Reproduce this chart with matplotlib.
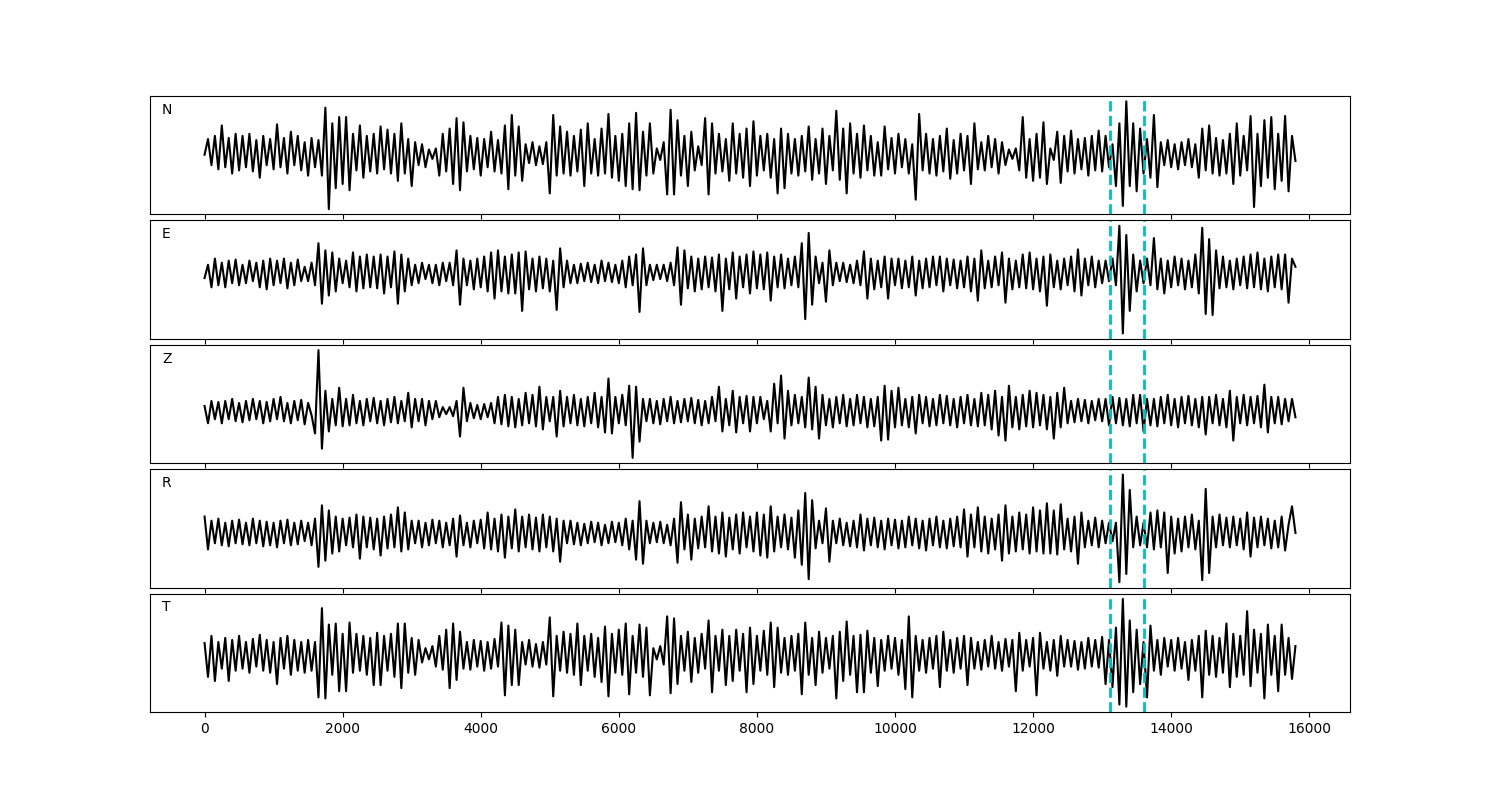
import numpy as np
import matplotlib
matplotlib.use("Agg")
import matplotlib.pyplot as plt

# sample spacing between successive read-off extrema
step = 50

labels = ["N", "E", "Z", "R", "T"]

trace_N = [
    0, 15, -10, 18, -14, 28, -12, 16, -18, 20,
    -15, 18, -12, 20, -16, 14, -22, 18, -10, 15,
    -14, 29, -12, 16, -18, 22, -10, 18, -15, 12,
    -20, 16, -12, 14, -20, 45, -52, 30, -32, 36,
    -28, 36, -34, 20, -15, 28, -22, 18, -16, 20,
    -18, 27, -14, 24, -18, 20, -25, 30, -18, 15,
    -30, 12, -10, 10, -12, 5, -4, 6, -20, 20,
    -16, 25, -28, 35, -34, 31, -16, 18, -14, 16,
    -20, 15, -12, 22, -16, 14, -18, 28, -33, 38,
    -20, 27, -25, 10, -8, 12, -10, 8, -9, 12,
    -37, 38, -20, 27, -18, 22, -20, 18, -16, 24,
    -30, 30, -18, 15, -20, 25, -18, 39, -22, 18,
    -25, 20, -30, 30, -33, 40, -34, 22, -20, 30,
    -18, 6, -5, 12, -38, 43, -38, 33, -20, 18,
    -30, 22, -15, 8, -10, 35, -38, 30, -18, 20,
    -16, 15, -25, 30, -18, 20, -22, 25, -30, 32,
    -20, 18, -15, 20, -22, 15, -37, 25, -32, 20,
    -18, 15, -20, 18, -16, 27, -24, 15, -18, 25,
    -28, 18, -15, 42, -24, 25, -37, 30, -18, 20,
    -22, 28, -15, 18, -20, 12, -20, 27, -14, 16,
    -18, 20, -12, 15, -18, 10, -43, 39, -15, 20,
    -18, 15, -20, 18, -16, 25, -23, 14, -18, 20,
    -15, 18, -28, 30, -14, 12, -15, 18, -12, 15,
    -18, 12, -10, 5, -4, 6, -15, 36, -22, 15,
    -25, 20, -22, 31, -28, 6, -5, 22, -27, 18,
    -16, 23, -18, 15, -14, 16, -20, 18, -15, 23,
    -16, 18, -12, 10, -30, 30, -49, 51, -30, 30,
    -35, 25, -18, 15, -22, 38, -31, 12, -10, 14,
    -12, 10, -14, 12, -10, 15, -12, 10, -22, 25,
    -15, 28, -18, 16, -20, 14, -18, 20, -28, 30,
    -20, 18, -15, 37, -50, 20, -30, 33, -22, 36,
    -33, 20, -25, 37, -35, 18, -6,
]

trace_E = [
    -5, 8, -14, 14, -12, 10, -14, 12, -10, 13,
    -12, 8, -10, 12, -8, 10, -14, 12, -16, 14,
    -12, 12, -10, 14, -15, 10, -12, 13, -8, 6,
    -8, 10, -12, 29, -30, 22, -22, 20, -18, 14,
    -10, 12, -14, 20, -18, 16, -15, 18, -14, 16,
    -15, 18, -20, 16, -14, 21, -30, 18, -18, 14,
    -12, 8, -10, 10, -6, 8, -10, 8, -12, 10,
    -8, 10, -12, 22, -31, 14, -12, 12, -16, 14,
    -14, 16, -18, 20, -25, 22, -18, 16, -20, 18,
    -20, 20, -37, 21, -16, 14, -18, 16, -15, 14,
    -18, 12, -36, 24, -14, 12, -10, 8, -10, 9,
    -8, 10, -9, 8, -10, 12, -8, 10, -9, 8,
    -10, 12, -14, 16, -12, 18, -38, 24, -12, 8,
    -7, 8, -6, 8, -8, 10, -12, 25, -31, 22,
    -15, 16, -18, 14, -16, 16, -14, 15, -18, 18,
    -37, 14, -16, 20, -25, 16, -14, 18, -20, 21,
    -15, 18, -16, 20, -27, 16, -14, 18, -15, 14,
    -12, 16, -14, 29, -45, 39, -31, 16, -10, 10,
    -28, 22, -12, 10, -8, 10, -9, 8, -10, 12,
    -12, 21, -25, 14, -16, 12, -14, 16, -25, 14,
    -12, 14, -15, 12, -14, 16, -22, 12, -15, 14,
    -14, 16, -12, 16, -18, 14, -12, 13, -15, 12,
    -14, 16, -18, 14, -27, 22, -15, 12, -14, 16,
    -12, 20, -29, 14, -16, 12, -14, 18, -15, 20,
    -16, 14, -18, 16, -32, 18, -14, 12, -16, 14,
    -12, 16, -18, 23, -22, 14, -12, 16, -14, 12,
    -10, 12, -8, 14, -12, 46, -59, 37, -37, 18,
    -18, 12, -10, 14, -12, 34, -16, 14, -20, 12,
    -14, 16, -12, 14, -16, 12, -14, 18, -20, 44,
    -40, 33, -41, 22, -15, 16, -14, 12, -16, 14,
    -12, 16, -15, 18, -14, 20, -16, 14, -18, 16,
    -14, 18, -16, 18, -29, 14, 6,
]

trace_Z = [
    5, -12, 10, -8, 9, -12, 10, -8, 12, -10,
    8, -11, 10, -9, 12, -8, 10, -12, 9, -10,
    12, -8, 14, -10, 8, -12, 10, -9, 11, -13,
    8, -4, -22, 60, -37, 20, -20, 12, -14, 23,
    -15, 12, -14, 16, -12, 10, -14, 12, -10, 13,
    -12, 10, -14, 12, -11, 14, -12, 10, -10, 18,
    -16, 12, -10, 12, -14, 10, -8, 10, -6, 4,
    -3, 4, -5, 10, -25, 23, -10, 8, -7, 6,
    -8, 7, -6, 8, -12, 14, -13, 16, -15, 14,
    -16, 12, -14, 18, -12, 16, -15, 24, -18, 14,
    -10, 14, -25, 20, -15, 14, -12, 16, -14, 12,
    -15, 14, -12, 18, -16, 14, -21, 32, -22, 14,
    -12, 16, -14, 25, -46, 24, -30, 12, -10, 12,
    -12, 10, -13, 12, -10, 14, -12, 10, -11, 12,
    -10, 13, -12, 11, -14, 10, -12, 14, -10, 24,
    -20, 12, -14, 20, -21, 14, -12, 15, -20, 14,
    -12, 14, -8, 10, -20, 27, -12, 35, -27, 20,
    -14, 16, -12, 14, -16, 33, -18, 24, -27, 16,
    -14, 12, -16, 14, -12, 16, -15, 12, -14, 16,
    -12, 14, -16, 12, -15, 14, -29, 25, -28, 20,
    -16, 23, -14, 12, -16, 14, -22, 16, -12, 14,
    -15, 12, -14, 16, -12, 15, -14, 12, -16, 14,
    -12, 16, -14, 12, -15, 18, -14, 16, -18, 20,
    -24, 14, -29, 25, -16, 14, -18, 16, -15, 20,
    -16, 18, -14, 16, -18, 14, -27, 18, -16, 23,
    -12, 10, -11, 12, -10, 11, -12, 10, -9, 12,
    -10, 12, -14, 14, -12, 13, -14, 12, -15, 16,
    -12, 16, -20, 12, -14, 12, -15, 14, -12, 16,
    -14, 12, -16, 14, -12, 15, -14, 12, -16, 14,
    -23, 14, -12, 16, -14, 12, -16, 20, -29, 14,
    -12, 16, -14, 14, -12, 15, -16, 26, -21, 14,
    -12, 14, -13, 12, -10, 12, -6,
]

trace_R = [
    16, -16, 12, -10, 14, -12, 10, -13, 12, -10,
    13, -11, 10, -12, 14, -10, 12, -13, 11, -12,
    10, -14, 12, -10, 13, -12, 10, -11, 12, -8,
    10, -12, 14, -33, 27, -27, 22, -20, 16, -18,
    14, -12, 15, -14, 18, -25, 16, -14, 15, -16,
    14, -22, 16, -15, 18, -14, 25, -18, 20, -16,
    12, -10, 12, -14, 10, -12, 13, -10, 12, -14,
    10, -12, 14, -23, 17, -12, 10, -14, 12, -10,
    13, -15, 20, -16, 14, -18, 18, -24, 16, -15,
    23, -18, 16, -14, 18, -16, 15, -18, 18, -14,
    16, -18, 14, -28, 12, -10, 12, -11, 10, -12,
    9, -10, 11, -9, 10, -12, 8, -10, 11, -9,
    10, -12, 14, -16, 12, -26, 31, -30, 12, -10,
    10, -9, 11, -10, 8, -12, 14, -29, 30, -16,
    18, -26, 14, -15, 16, -14, 26, -18, 16, -20,
    20, -23, 15, -16, 18, -20, 20, -14, 16, -18,
    20, -22, 18, -24, 26, -18, 16, -14, 18, -16,
    15, -24, 22, -31, 39, -45, 32, -15, 12, -10,
    24, -28, 12, -10, 14, -12, 10, -13, 12, -14,
    18, -17, 14, -12, 15, -14, 12, -16, 14, -12,
    13, -15, 12, -14, 16, -12, 14, -15, 12, -17,
    14, -12, 16, -14, 12, -15, 14, -13, 16, -14,
    23, -23, 18, -14, 25, -18, 16, -20, 14, -16,
    18, -27, 27, -20, 16, -18, 20, -16, 18, -20,
    25, -18, 22, -20, 29, -20, 22, -21, 28, -16,
    14, -18, 16, -30, 20, -14, 12, -12, 15, -14,
    12, -10, 10, -8, 10, -48, 57, -40, 42, -14,
    16, -12, 10, -14, 20, -16, 22, -14, 20, -39,
    16, -20, 14, -18, 16, -14, 18, -16, 12, -46,
    43, -39, 16, -14, 18, -12, 15, -14, 16, -12,
    14, -16, 20, -23, 15, -14, 16, -12, 14, -15,
    12, -14, 16, -17, 8, 26, 0,
]

trace_T = [
    11, -22, 18, -26, 12, -14, 16, -26, 14, -16,
    18, -14, 12, -18, 15, -12, 19, -16, 14, -18,
    12, -29, 16, -14, 18, -20, 14, -16, 12, -18,
    14, -16, 12, -42, 45, -43, 29, -20, 30, -36,
    20, -36, 31, -18, 20, -16, 18, -20, 16, -30,
    21, -30, 18, -16, 20, -22, 30, -33, 30, -18,
    16, -20, 14, -8, 6, -5, 8, -12, 18, -15,
    24, -33, 30, -25, 22, -14, 12, -15, 14, -12,
    13, -16, 12, -14, 15, -12, 31, -40, 28, -30,
    24, -30, 12, -10, 14, -12, 10, -13, 12, -10,
    36, -41, 18, -16, 22, -18, 20, -20, 30, -30,
    18, -16, 20, -22, 16, -27, 27, -41, 20, -18,
    24, -20, 30, -39, 18, -18, 29, -22, 26, -40,
    6, -5, 8, -10, 37, -38, 35, -29, 18, -16,
    22, -27, 16, -18, 20, -14, 33, -37, 18, -16,
    24, -30, 18, -26, 24, -16, 20, -37, 26, -29,
    18, -16, 23, -20, 31, -32, 26, -18, 16, -20,
    18, -16, 20, -39, 31, -20, 16, -30, 22, -18,
    16, -14, 18, -43, 22, -26, 32, -20, 18, -37,
    19, -37, 23, -18, 16, -31, 14, -16, 18, -14,
    16, -20, 14, -34, 37, -42, 18, -16, 14, -18,
    16, -14, 18, -32, 22, -16, 14, -18, 16, -14,
    18, -30, 16, -14, 12, -15, 14, -12, 18, -14,
    12, -16, 15, -12, 14, -36, 21, -16, 14, -12,
    16, -40, 21, -14, 12, -16, 14, -21, 18, -12,
    14, -12, 13, -15, 12, -14, 16, -12, 14, -13,
    17, -29, 14, -32, 26, -49, 54, -51, 33, -37,
    24, -29, 12, -42, 28, -16, 14, -20, 16, -12,
    14, -16, 16, -14, 12, -25, 14, -16, 18, -42,
    23, -20, 18, -22, 16, -18, 30, -32, 20, -22,
    18, -20, 42, -31, 24, -18, 20, -43, 29, -20,
    18, -36, 29, -20, 16, -24, 8,
]

picks = [13110, 13605]

traces = [trace_N, trace_E, trace_Z, trace_R, trace_T]

fig, axes = plt.subplots(5, 1, sharex=True, figsize=(15, 8), dpi=100)
fig.subplots_adjust(left=0.1, right=0.9, top=0.88, bottom=0.11, hspace=0.05)

for ax, lab, tr in zip(axes, labels, traces):
    y = np.asarray(tr, dtype=float)
    x = np.arange(len(y)) * step
    ax.plot(x, y, color="black", lw=1.5, solid_joinstyle="round")
    for p in picks:
        ax.axvline(p, color="c", ls="--", lw=2)
    ax.set_yticks([])
    ax.text(0.01, 0.85, lab, transform=ax.transAxes, fontsize=10)

fig.savefig("out.png", dpi=100)
